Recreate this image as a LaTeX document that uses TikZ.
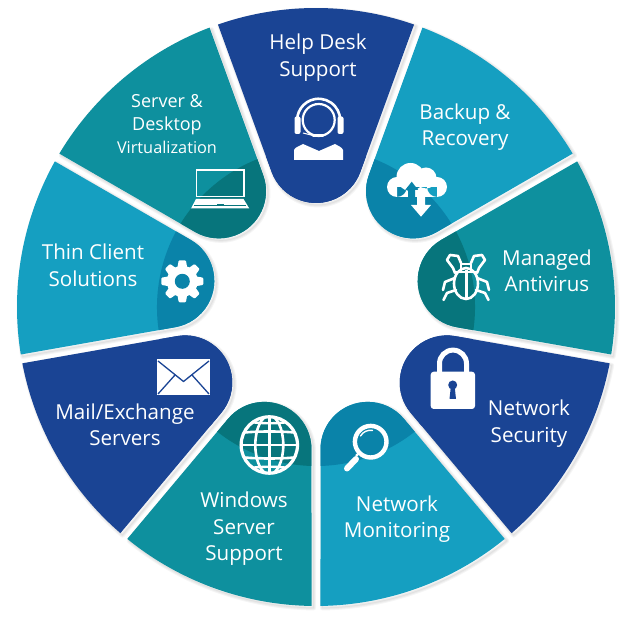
\documentclass[tikz,border=0pt]{standalone}
\usepackage{fontspec}
\setmainfont{Open Sans}
\definecolor{navyc}{HTML}{1A4494}
\definecolor{tealc}{HTML}{0E909E}
\definecolor{teald}{HTML}{07757C}
\definecolor{lightc}{HTML}{159FC1}
\definecolor{lightd}{HTML}{0A83A9}
\newcommand\sectorshape{(-19.14:299) arc[start angle=-19.14,end angle=19.14,radius=299] -- (135.06,44.35) arc[start angle=110,end angle=250,radius=47.2] -- cycle}
\tikzset{
  lbl/.style={text=white,align=center,inner sep=0pt,font=\fontsize{20.6}{26.5}\selectfont},
  icon/.style={draw=white,line width=2.6,line cap=round,line join=round}
}
\begin{document}
\begin{tikzpicture}[x=1pt,y=1pt]
\useasboundingbox (0,0) rectangle (638,624);
\fill[white] (0,0) rectangle (638,624);
\begin{scope}[shift={(0,624)},yscale=-1]
% shadows
\foreach \ang in {-90,-50,-10,30,70,110,150,190,230}{
  \begin{scope}[shift={(318,309)},rotate=\ang]
    \foreach \w in {5,3,1}{
      \draw[black,opacity=.04,line width=\w,line join=round] \sectorshape;
    }
  \end{scope}
}
% sectors
\foreach \ang/\col/\dk in {-90/navyc/navyc,-50/lightc/lightd,-10/tealc/teald,30/navyc/navyc,70/lightc/lightd,110/tealc/teald,150/navyc/navyc,190/lightc/lightd,230/tealc/teald}{
  \begin{scope}[shift={(316,307)},rotate=\ang]
    \fill[\col] \sectorshape;
    \begin{scope}
      \clip \sectorshape;
      \fill[\dk] (0,0) circle[radius=159];
    \end{scope}
  \end{scope}
}
% headset
\draw[white,line width=2.2] (318.7,120) circle[radius=16];
\draw[white,line width=2.6] (297.5,124) arc[start angle=170,end angle=370,radius=21.5];
\fill[white,rounded corners=2] (294.5,116.5) rectangle (300.5,134);
\fill[white,rounded corners=2] (337.5,116.5) rectangle (343.5,134);
\draw[white,line width=1] (303,133) -- (313,135.5);
\draw[white,line width=3,line cap=round] (313,135.5) -- (323,135.5);
\fill[white] (294,160) -- (294,150) .. controls (295,147) and (300,146) .. (303,144) -- (319,151) -- (335,144) .. controls (338,146) and (342,147) .. (343,150) -- (343,160) -- cycle;
% cloud
\fill[white] (397,187) circle[radius=10] (410.5,177) circle[radius=14] (426,178) circle[radius=10.5] (437,187) circle[radius=10] (397,187) rectangle (437,197);
\fill[lightd] (411.7,181.7) -- (418.2,190) -- (415.2,190) -- (415.2,198) -- (408.2,198) -- (408.2,190) -- (405.2,190) -- cycle;
\fill[white] (417,197) -- (425,197) -- (425,205) -- (431,205) -- (421,216.7) -- (411,205) -- (417,205) -- cycle;
% bug
\draw[icon] (466,283.5) ellipse[x radius=12,y radius=15.5];
\draw[icon,line width=3,line cap=butt] (466,270) -- (466,298);
\draw[icon] (455,272) -- (477,272);
\draw[icon] (461,272) -- (461,264) -- (471,264) -- (471,272);
\foreach \sx/\off in {1/0,-1/932}{
  \begin{scope}[shift={(\off,0)},xscale=\sx]
    \draw[icon] (447,260) -- (450,255) -- (458,256) -- (461,263);
    \draw[icon] (447,260) -- (453,268) -- (455,273);
    \draw[icon] (455,278) -- (445,282) -- (443,290);
    \draw[icon] (456,290) -- (447,293) -- (443.5,300);
  \end{scope}
}
% lock
\draw[white,line width=5] (439.5,372) -- (439.5,363.6) arc[start angle=180,end angle=360,radius=13.5] -- (466.5,372);
\fill[white,rounded corners=3] (430.7,371.7) rectangle (475,409);
\fill[navyc] (452.7,385) circle[radius=4.5];
\fill[navyc] (451,385) -- (449.5,399) -- (456,399) -- (454.5,385) -- cycle;
% magnifier
\draw[white,line width=4.4] (370.7,441.7) circle[radius=15.8];
\draw[white,line width=1.4,line cap=round] (360.5,436) arc[start angle=210,end angle=280,radius=11.5];
\draw[white,line width=2.4] (359,453) -- (356,456);
\draw[white,line width=6,line cap=round] (356,459) -- (347,468.5);
% globe
\begin{scope}
  \clip (269.3,445) circle[radius=29.3];
  \draw[white,line width=2.6] (269.3,416) -- (269.3,474);
  \draw[white,line width=2.6] (240,445) -- (299,445);
  \draw[white,line width=2.6] (269.3,445) ellipse[x radius=14,y radius=29.3];
  \draw[white,line width=2.6] (240,433) .. controls (255,431) and (284,431) .. (299,433);
  \draw[white,line width=2.6] (240,457) .. controls (255,459) and (284,459) .. (299,457);
  \draw[white,line width=2.4] (245,421) .. controls (258,424) and (281,424) .. (294,421);
  \draw[white,line width=2.4] (245,469) .. controls (258,466) and (281,466) .. (294,469);
\end{scope}
\draw[white,line width=3.2] (269.3,445) circle[radius=28.2];
% envelope
\fill[white] (157.3,359.3) rectangle (210,395);
\draw[navyc,line width=1.3,line join=round] (158,361) -- (183.5,381.5) -- (209,361);
\draw[navyc,line width=1.3] (158,394) -- (175,375) (209,394) -- (192,375);
% gear
\begin{scope}[shift={(182.3,281.3)}]
  \fill[white] (0,0) circle[radius=15.5];
  \foreach \r in {0,45,...,315}{
    \fill[white,rotate=\r,rounded corners=1] (13,-5) -- (21,-3.6) -- (21,3.6) -- (13,5) -- cycle;
  }
  \fill[lightd] (0,0) circle[radius=7.5];
\end{scope}
% laptop
\draw[white,line width=1.6,line join=miter] (196.5,170) rectangle (244,196.5);
\fill[white] (196,199) -- (243.5,199) -- (249.3,208.5) -- (191,208.5) -- cycle;
\draw[teald,line width=.6] (194,205.5) -- (217,205.5) (223,205.5) -- (246,205.5);
\fill[teald] (216.5,204.5) rectangle (224,206.5);
% labels
\node[lbl] (help) at (318,57.5) {Help Desk\\Support};
\node[lbl] (backup) at (465,127) {Backup \&\\Recovery};
\node[lbl] (antivirus) at (547,271) {Managed\\Antivirus};
\node[lbl] (security) at (529,423.5) {Network\\Security};
\node[lbl] (monitoring) at (397,519) {Network\\Monitoring};
\node[lbl] (windows) at (244,529) {Windows\\Server\\Support};
\node[lbl] (mail) at (125,425) {Mail/Exchange\\Servers};
\node[lbl] (thin) at (93,265.5) {Thin Client\\Solutions};
\node[lbl,font=\fontsize{18}{23}\selectfont] (server) at (167,124) {Server \&\\Desktop\\{\fontsize{16.3}{23}\selectfont Virtualization}};
\end{scope}
\end{tikzpicture}
\end{document}
